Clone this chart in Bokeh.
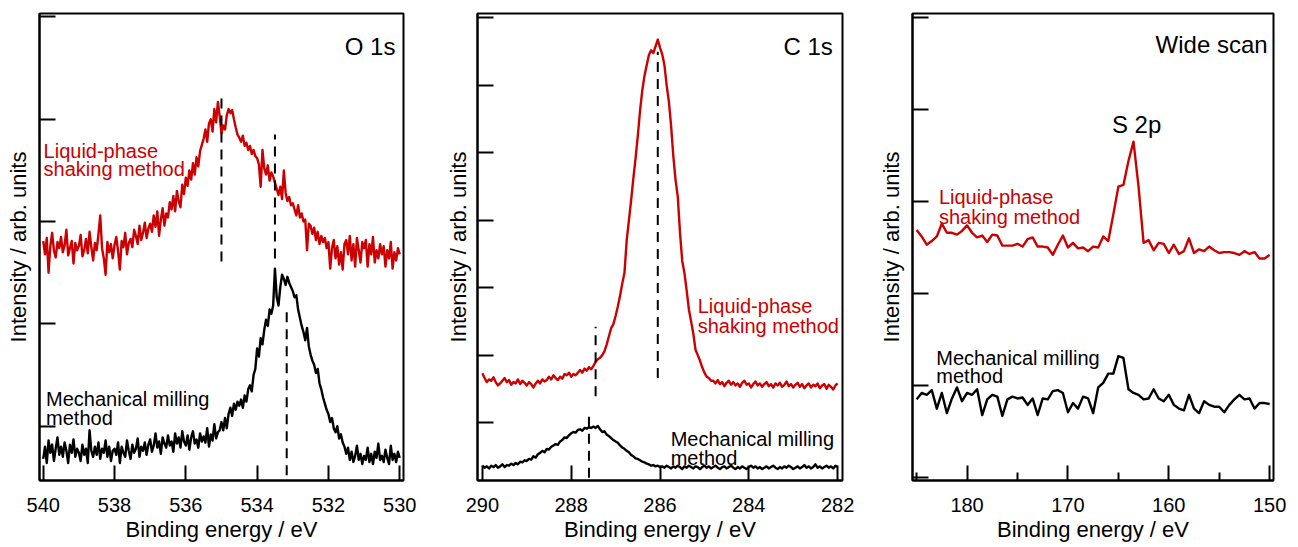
import numpy as np
from bokeh.plotting import figure
from bokeh.models import Range1d, FixedTicker, Label, CustomJSTickFormatter
from bokeh.layouts import row
from bokeh.embed import file_html
from bokeh.resources import INLINE

RED = "#cc0000"
FONT = "Liberation Sans"

# ---------------- O 1s ----------------
o1s_energy = np.round(np.linspace(540.0, 530.0, 201), 2)
o1s_liquid = [
    281, 268, 284, 250, 276, 289, 272, 265, 280, 274,
    285, 270, 277, 292, 267, 274, 281, 259, 279, 272,
    276, 287, 266, 272, 283, 269, 290, 275, 262, 279,
    272, 288, 306, 274, 264, 248, 280, 270, 278, 264,
    277, 285, 271, 253, 281, 275, 289, 268, 279, 283,
    275, 292, 286, 278, 296, 282, 289, 299, 284, 293,
    298, 290, 306, 295, 310, 286, 302, 313, 296, 308,
    304, 319, 312, 325, 310, 330, 320, 314, 336, 327,
    343, 335, 350, 341, 357, 346, 363, 354, 369, 375,
    381, 390, 378, 396, 400, 388, 410, 397, 417, 403,
    386, 394, 390, 404, 410, 406, 409, 400, 392, 385,
    382, 378, 384, 374, 377, 370, 374, 366, 370, 364,
    362, 356, 334, 370, 352, 346, 355, 340, 348, 344,
    338, 332, 326, 334, 322, 350, 328, 320, 324, 316,
    318, 312, 306, 316, 304, 308, 300, 302, 272, 298,
    296, 288, 294, 282, 290, 278, 286, 280, 284, 274,
    280, 254, 274, 282, 264, 276, 258, 270, 253, 278,
    282, 268, 286, 262, 278, 256, 284, 272, 260, 280,
    274, 282, 256, 278, 268, 285, 260, 272, 264, 278,
    268, 276, 256, 272, 264, 280, 254, 270, 262, 274,
    268,
]
o1s_milling = [
    68, 80, 64, 86, 74, 82, 66, 78, 89, 72,
    80, 70, 84, 76, 64, 82, 74, 87, 70, 78,
    74, 66, 82, 72, 78, 64, 96, 76, 70, 80,
    72, 84, 68, 78, 74, 86, 70, 80, 66, 76,
    78, 72, 84, 64, 80, 74, 70, 86, 76, 68,
    82, 74, 78, 88, 70, 80, 76, 84, 72, 82,
    87, 75, 81, 93, 79, 85, 73, 89, 83, 79,
    91, 81, 85, 75, 93, 83, 89, 79, 95, 85,
    81, 91, 77, 89, 95, 83, 87, 79, 93, 85,
    90, 84, 98, 80, 92, 86, 102, 88, 94, 96,
    104, 96, 108, 98, 112, 118, 110, 122, 116, 124,
    120, 126, 118, 130, 124, 136, 140, 134, 150, 156,
    176, 168, 186, 180, 194, 204, 198, 214, 210, 218,
    254, 226, 218, 236, 248, 244, 238, 246, 240, 236,
    232, 226, 228, 214, 206, 198, 192, 184, 196, 178,
    170, 164, 160, 152, 156, 142, 136, 128, 122, 116,
    112, 104, 108, 98, 94, 100, 88, 92, 84, 80,
    73, 79, 67, 75, 65, 71, 81, 67, 73, 63,
    71, 67, 79, 65, 73, 63, 75, 69, 83, 67,
    71, 65, 77, 69, 63, 81, 67, 73, 65, 75,
    69,
]
o1s_xticks = [530, 532, 534, 536, 538, 540]
o1s_yticks = [100, 200, 300, 400, 500]
o1s_peak_x = [535.0, 533.5, 533.17]
o1s_peak_lo = [261, 264, 52]
o1s_peak_hi = [425, 385, 216]

# ---------------- C 1s ----------------
c1s_energy = np.round(np.linspace(290.0, 282.0, 161), 2)
c1s_liquid = [
    173, 166, 160, 164, 162, 167, 160, 155, 158, 162,
    166, 160, 163, 156, 160, 158, 164, 157, 162, 159,
    155, 160, 157, 152, 158, 162, 158, 164, 161, 163,
    168, 164, 170, 166, 163, 168, 165, 172, 170, 174,
    168, 172, 170, 174, 178, 174, 180, 177, 182, 179,
    184, 190, 194, 196, 200, 206, 216, 228, 240, 246,
    258, 272, 288, 306, 322, 370, 400, 430, 462, 492,
    525, 562, 592, 614, 630, 645, 652, 648, 658, 668,
    656,
    646, 630, 600, 576, 540, 495, 460, 435, 382, 340,
    322, 296, 268, 250, 232, 208, 200, 192, 182, 174,
    168, 166, 162,
    162, 158, 163, 157, 160, 154, 159, 162, 156, 160,
    155, 158, 153, 159, 162, 156, 158, 152, 157, 161,
    155, 158, 153, 157, 160, 154, 157, 152, 158, 155,
    159, 153, 156, 161, 154, 157, 152, 156, 159, 153,
    157, 151, 155, 158, 152, 156, 154, 158, 151, 155,
    157, 150, 156, 153, 149, 155, 158,
]
c1s_milling = [
    36, 33, 35, 32, 36, 34, 37, 33, 35, 38,
    34, 37, 36, 39, 37, 40, 38, 42, 41, 44,
    43, 46, 45, 50, 48, 53, 55, 58, 56, 61,
    60, 64, 66, 68, 67, 72, 74, 78, 77, 81,
    84, 86, 85, 89, 90, 88, 92, 91, 93, 92,
    94, 92, 95, 90, 86, 87, 82, 80, 77, 74,
    72, 70, 66, 63, 61, 58, 56, 52, 50, 47,
    46, 44, 42, 41, 39, 38, 36, 37, 35, 36,
    34,
    35, 33, 36, 34, 32, 35, 33, 36, 34, 31,
    35, 33, 36, 34, 32, 35, 34, 31, 34, 36,
    33, 35, 32, 34, 36, 33, 31, 34, 35, 32,
    34, 36, 33, 31, 34, 32, 35, 33, 31, 34,
    36, 33, 35, 32, 34, 31, 33, 35, 32, 34,
    36, 33, 31, 34, 32, 35, 33, 36, 34, 31,
    33, 35, 32, 34, 37, 33, 35, 32, 34, 38,
    33, 35, 32, 34, 36, 33, 35, 32, 36, 34,
]
c1s_xticks = [282, 284, 286, 288, 290]
c1s_yticks = [100, 200, 300, 400, 500, 600, 700]
c1s_peak_x = [286.05, 287.45, 287.6]
c1s_peak_lo = [166, 139, 18]
c1s_peak_hi = [650, 242, 118]

# ---------------- Wide scan ----------------
wide_energy = np.round(np.linspace(185.0, 150.0, 71), 1)
wide_liquid = [
    269, 262, 253, 257, 262, 276, 266, 266, 264, 268,
    274, 266, 261, 263, 256, 264, 263, 252, 252, 252,
    254, 251, 259, 261, 251, 251, 250, 242, 253, 263,
    250, 255, 249, 250, 246, 251, 250, 262, 257, 286,
    316, 318, 344, 365, 316, 255, 258, 247, 255, 254,
    244, 253, 243, 246, 260, 244, 248, 246, 251, 247,
    244, 245, 245, 244, 242, 246, 243, 245, 238, 238, 242,
]
wide_milling = [
    85, 92, 90, 95, 75, 92, 70, 86, 98, 83,
    92, 90, 96, 68, 85, 90, 88, 67, 85, 88,
    86, 87, 79, 86, 68, 86, 85, 94, 95, 92,
    71, 81, 75, 88, 86, 70, 98, 103, 113, 113,
    132, 130, 96, 92, 90, 85, 86, 96, 86, 83,
    90, 79, 75, 73, 90, 75, 70, 83, 79, 77,
    77, 71, 79, 85, 90, 85, 86, 75, 81, 81, 80,
]
wide_xticks = [150, 160, 170, 180]
wide_xminor = [155, 165, 175, 185]
wide_yticks = [0, 100, 200, 300, 400, 500]

LABEL_LIQUID = ["Liquid-phase", "shaking method"]
LABEL_MILLING = ["Mechanical milling", "method"]

FIG_H = 544
BORDER_TOP = 11
BORDER_BOTTOM = 60


def make_panel(width, left, right, top, xr, yr, xticks, yticks, xminor, ystandoff):
    p = figure(width=width, height=FIG_H, x_range=Range1d(*xr), y_range=Range1d(*yr),
               output_backend="svg", toolbar_location=None,
               min_border_left=left, min_border_right=right,
               min_border_top=top, min_border_bottom=BORDER_BOTTOM)
    p.grid.visible = False
    p.background_fill_color = "white"
    p.border_fill_color = "white"
    p.outline_line_color = "black"
    p.outline_line_width = 2
    p.outline_line_alpha = 1.0

    xa = p.xaxis[0]
    xa.ticker = FixedTicker(ticks=xticks, minor_ticks=xminor)
    xa.axis_label = "Binding energy / eV"
    xa.axis_label_text_font = FONT
    xa.axis_label_text_font_size = "22px"
    xa.axis_label_text_font_style = "normal"
    xa.axis_label_text_color = "black"
    xa.axis_label_standoff = 2
    xa.major_label_text_font = FONT
    xa.major_label_text_font_size = "20px"
    xa.major_label_text_color = "black"
    xa.major_label_standoff = 17
    xa.major_tick_in = 15
    xa.major_tick_out = 0
    xa.minor_tick_in = 8
    xa.minor_tick_out = 0
    xa.major_tick_line_width = 2
    xa.minor_tick_line_width = 2
    xa.axis_line_width = 2
    xa.major_tick_line_color = "black"
    xa.minor_tick_line_color = "black"

    ya = p.yaxis[0]
    ya.ticker = FixedTicker(ticks=yticks, minor_ticks=[])
    ya.formatter = CustomJSTickFormatter(code="return '';")
    ya.axis_label = "Intensity / arb. units"
    ya.axis_label_text_font = FONT
    ya.axis_label_text_font_size = "22px"
    ya.axis_label_text_font_style = "normal"
    ya.axis_label_text_color = "black"
    ya.axis_label_standoff = ystandoff
    ya.major_label_standoff = 0
    ya.major_tick_in = 16
    ya.major_tick_out = 0
    ya.minor_tick_in = 0
    ya.minor_tick_out = 0
    ya.major_tick_line_width = 2
    ya.axis_line_width = 2
    return p


def add_text(p, x, y, text, color="black", size="20px", align="left"):
    p.add_layout(Label(x=x, y=y, text=text, text_font=FONT, text_font_size=size,
                       text_color=color, text_align=align, text_baseline="alphabetic"))


LW = 2.4

# Panel 1: O 1s
p1 = make_panel(437, 39, 34, BORDER_TOP, (540.104, 529.894), (46.9, 503.4),
                o1s_xticks, o1s_yticks, [], 9)
p1.line(o1s_energy, o1s_liquid, line_width=LW, color=RED, line_join="round")
p1.line(o1s_energy, o1s_milling, line_width=LW, color="black", line_join="round")
p1.segment(x0=o1s_peak_x, y0=o1s_peak_lo, x1=o1s_peak_x, y1=o1s_peak_hi,
           line_width=2, color="black", line_dash="10 7")
add_text(p1, 530.12, 471.6, "O 1s", size="24px", align="right")
add_text(p1, 539.99, 369.0, LABEL_LIQUID[0], RED)
add_text(p1, 539.99, 351.3, LABEL_LIQUID[1], RED)
add_text(p1, 539.92, 126.7, LABEL_MILLING[0])
add_text(p1, 539.92, 107.7, LABEL_MILLING[1])

# Panel 2: C 1s
p2 = make_panel(438, 40, 33, BORDER_TOP, (290.11, 281.89), (14.06, 706.6),
                c1s_xticks, c1s_yticks, [], 7)
p2.line(c1s_energy, c1s_liquid, line_width=LW, color=RED, line_join="round")
p2.line(c1s_energy, c1s_milling, line_width=LW, color="black", line_join="round")
p2.segment(x0=c1s_peak_x, y0=c1s_peak_lo, x1=c1s_peak_x, y1=c1s_peak_hi,
           line_width=2, color="black", line_dash="10 7")
add_text(p2, 282.11, 658.3, "C 1s", size="24px", align="right")
add_text(p2, 285.15, 273.2, LABEL_LIQUID[0], RED)
add_text(p2, 285.15, 243.9, LABEL_LIQUID[1], RED)
add_text(p2, 285.76, 76.3, LABEL_MILLING[0])
add_text(p2, 285.76, 47.7, LABEL_MILLING[1])

# Panel 3: Wide scan
p3 = make_panel(414, 34, 16, BORDER_TOP + 2, (185.41, 149.62), (-3.13, 504.2),
                wide_xticks, wide_yticks, wide_xminor, 9)
p3.line(wide_energy, wide_liquid, line_width=LW, color=RED, line_join="round")
p3.line(wide_energy, wide_milling, line_width=LW, color="black", line_join="round")
add_text(p3, 150.2, 470.2, "Wide scan", size="24px", align="right")
add_text(p3, 163.19, 383.3, "S 2p", size="24px", align="center")
add_text(p3, 182.79, 304.8, LABEL_LIQUID[0], RED)
add_text(p3, 182.79, 283.2, LABEL_LIQUID[1], RED)
add_text(p3, 183.05, 130.4, LABEL_MILLING[0])
add_text(p3, 183.05, 110.5, LABEL_MILLING[1])

layout = row(p1, p2, p3)
open("out.html", "w").write(file_html(layout, INLINE))
